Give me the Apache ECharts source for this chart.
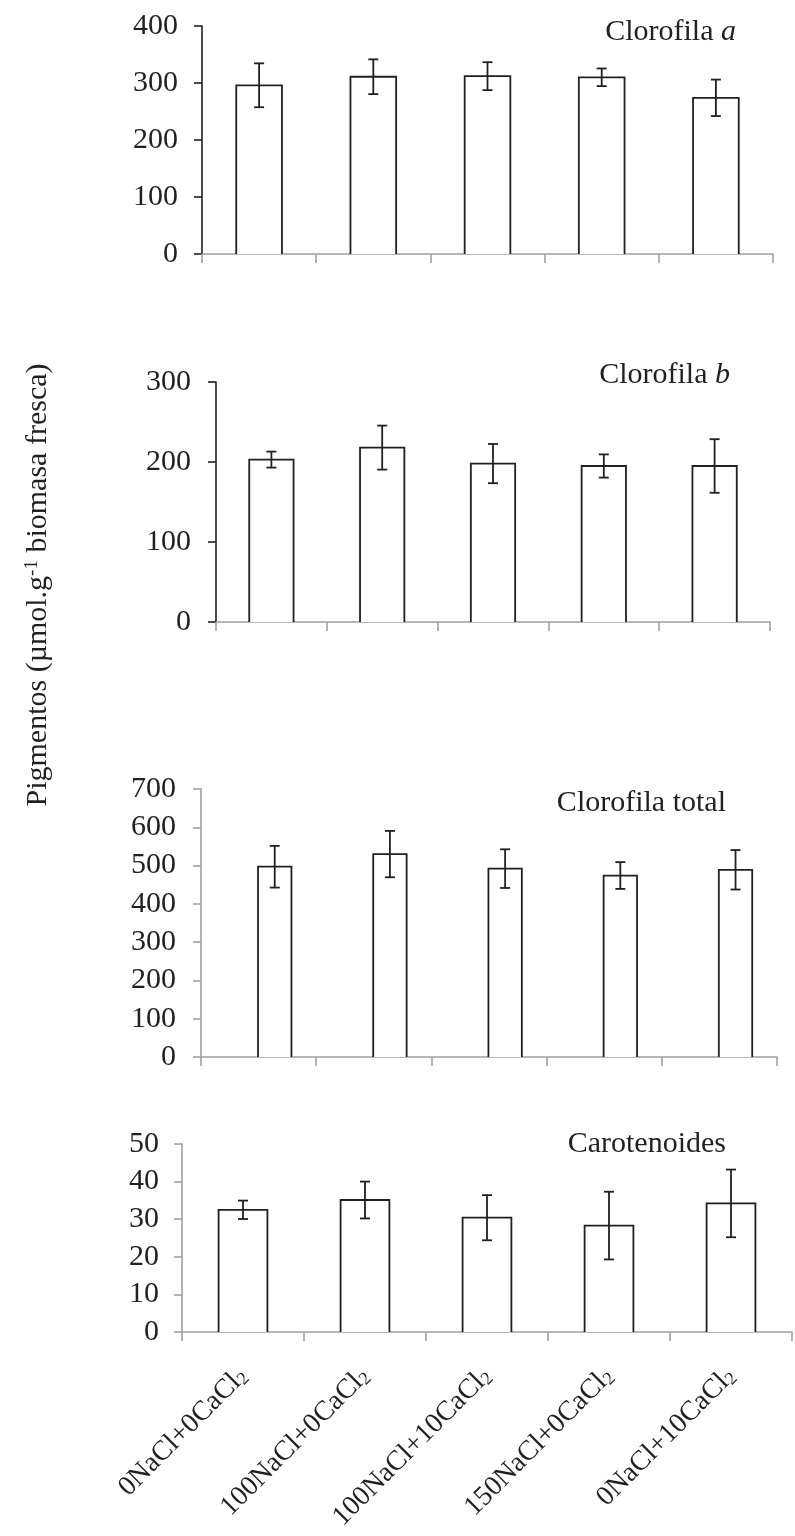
<!DOCTYPE html>
<html>
<head>
<meta charset="utf-8">
<script src="https://cdn.jsdelivr.net/npm/echarts@6/dist/echarts.min.js"></script>
<style>
html,body{margin:0;padding:0;background:#fff;}
#chart{width:795px;height:1536px;}
</style>
</head>
<body>
<div id="chart"></div>
<script>
// ---- data ----
const categories = ['0NaCl+0CaCl2', '100NaCl+0CaCl2', '100NaCl+10CaCl2', '150NaCl+0CaCl2', '0NaCl+10CaCl2'];
const clorofilaA = [296, 311, 312, 310, 274];
const clorofilaAErr = [38.5, 30.5, 24.5, 15.5, 32];
const clorofilaB = [203, 218, 198, 195, 195];
const clorofilaBErr = [10, 27.5, 24.5, 14.5, 33.5];
const clorofilaTotal = [497, 530, 492, 474, 489];
const clorofilaTotalErr = [54.5, 60.5, 50.5, 35, 51.5];
const carotenoides = [32.5, 35.1, 30.4, 28.3, 34.2];
const carotenoidesErr = [2.45, 4.9, 6, 9, 9];
const yMaxA = 400, yStepA = 100;
const yMaxB = 300, yStepB = 100;
const yMaxT = 700, yStepT = 100;
const yMaxC = 50, yStepC = 10;
const panelTitles = ['Clorofila {i|a}', 'Clorofila {i|b}', 'Clorofila total', 'Carotenoides'];
const yTitle = 'Pigmentos (µmol.g{sup|-1} biomasa fresca)';

// ---- styling ----
const FONT = '"Liberation Serif", "Times New Roman", serif';
const INK = '#231f20';
const GRAY = '#a0a0a0';

const chart = echarts.init(document.getElementById('chart'), null, {renderer: 'canvas'});

function renderer(widthFrac, offsetFrac) {
  return function (params, api) {
    const i = api.value(0), v = api.value(1), e = api.value(2);
    const base = api.coord([i, 0]);
    const top = api.coord([i, v]);
    const hi = api.coord([i, v + e]);
    const lo = api.coord([i, v - e]);
    const catW = api.size([1, 0])[0];
    const bw = catW * widthFrac;
    const cx = base[0] + catW * offsetFrac;
    const cap = 5;
    return {
      type: 'group',
      children: [
        {type: 'rect', shape: {x: cx - bw / 2, y: top[1], width: bw, height: base[1] - top[1]},
         style: {fill: '#fff', stroke: null}},
        {type: 'polyline', shape: {points: [[cx - bw / 2, base[1]], [cx - bw / 2, top[1]], [cx + bw / 2, top[1]], [cx + bw / 2, base[1]]]},
         style: {fill: null, stroke: INK, lineWidth: 1.8}},
        {type: 'line', shape: {x1: cx, y1: hi[1], x2: cx, y2: lo[1]}, style: {stroke: INK, lineWidth: 1.8}},
        {type: 'line', shape: {x1: cx - cap, y1: hi[1], x2: cx + cap, y2: hi[1]}, style: {stroke: INK, lineWidth: 1.8}},
        {type: 'line', shape: {x1: cx - cap, y1: lo[1], x2: cx + cap, y2: lo[1]}, style: {stroke: INK, lineWidth: 1.8}}
      ]
    };
  };
}

function seriesData(vals, errs) {
  return vals.map((v, i) => [i, v, errs[i]]);
}

const grids = [
  {left: 202, right: 22, top: 26, height: 228},
  {left: 216, right: 25, top: 382, height: 240},
  {left: 201, right: 18, top: 789, height: 268},
  {left: 182, right: 3, top: 1144, height: 188}
];

const yCfg = [
  {max: yMaxA, step: yStepA, lineColor: INK, margin: 24},
  {max: yMaxB, step: yStepB, lineColor: INK, margin: 25},
  {max: yMaxT, step: yStepT, lineColor: GRAY, margin: 25},
  {max: yMaxC, step: yStepC, lineColor: GRAY, margin: 23}
];

const xAxes = grids.map((g, k) => ({
  type: 'category',
  gridIndex: k,
  data: categories,
  boundaryGap: true,
  axisLine: {lineStyle: {color: GRAY, width: 1.6}},
  axisTick: {show: true, interval: 0, length: 9, lineStyle: {color: GRAY, width: 1.6}},
  axisLabel: k === 3 ? {
    show: true,
    rotate: 45,
    margin: 40,
    interval: 0,
    fontFamily: FONT,
    fontSize: 28,
    color: INK,
    formatter: function (s) { return s.replace(/CaCl2$/, 'CaCl{sub|2}'); },
    rich: {sub: {fontFamily: FONT, fontSize: 18, color: INK, verticalAlign: 'bottom', padding: [11, 0, 0, 0]}}
  } : {show: false},
  splitLine: {show: false}
}));

const yAxes = yCfg.map((c, k) => ({
  type: 'value',
  gridIndex: k,
  min: 0,
  max: c.max,
  interval: c.step,
  axisLine: {show: true, lineStyle: {color: c.lineColor, width: 1.6}},
  axisTick: {show: true, length: 8, lineStyle: {color: c.lineColor, width: 1.6}},
  axisLabel: {fontFamily: FONT, fontSize: 30, color: INK, margin: c.margin},
  splitLine: {show: false}
}));

const series = [
  {type: 'custom', xAxisIndex: 0, yAxisIndex: 0, renderItem: renderer(0.4, 0), data: seriesData(clorofilaA, clorofilaAErr), encode: {x: 0, y: 1}},
  {type: 'custom', xAxisIndex: 1, yAxisIndex: 1, renderItem: renderer(0.4, 0), data: seriesData(clorofilaB, clorofilaBErr), encode: {x: 0, y: 1}},
  {type: 'custom', xAxisIndex: 2, yAxisIndex: 2, renderItem: renderer(0.29, 0.14), data: seriesData(clorofilaTotal, clorofilaTotalErr), encode: {x: 0, y: 1}},
  {type: 'custom', xAxisIndex: 3, yAxisIndex: 3, renderItem: renderer(0.4, 0), data: seriesData(carotenoides, carotenoidesErr), encode: {x: 0, y: 1}}
];

const titlePos = [[736, 32], [730, 375], [726, 803], [726, 1144]];
const graphics = panelTitles.map((t, k) => ({
  type: 'text',
  x: titlePos[k][0], y: titlePos[k][1],
  style: {
    text: t, fill: INK, fontFamily: FONT, fontSize: 30,
    textAlign: 'right', textVerticalAlign: 'middle',
    rich: {i: {fontFamily: FONT, fontSize: 30, fontStyle: 'italic', fill: INK}}
  }
}));
graphics.push({
  type: 'text',
  x: 38, y: 585,
  rotation: Math.PI / 2,
  style: {
    text: yTitle, fill: INK, fontFamily: FONT, fontSize: 30,
    textAlign: 'center', textVerticalAlign: 'middle',
    rich: {sup: {fontFamily: FONT, fontSize: 19, fill: INK, verticalAlign: 'top', padding: [0, 0, 12, 0]}}
  }
});

chart.setOption({
  animation: false,
  backgroundColor: '#fff',
  grid: grids,
  xAxis: xAxes,
  yAxis: yAxes,
  series: series,
  graphic: graphics
});
</script>
</body>
</html>
